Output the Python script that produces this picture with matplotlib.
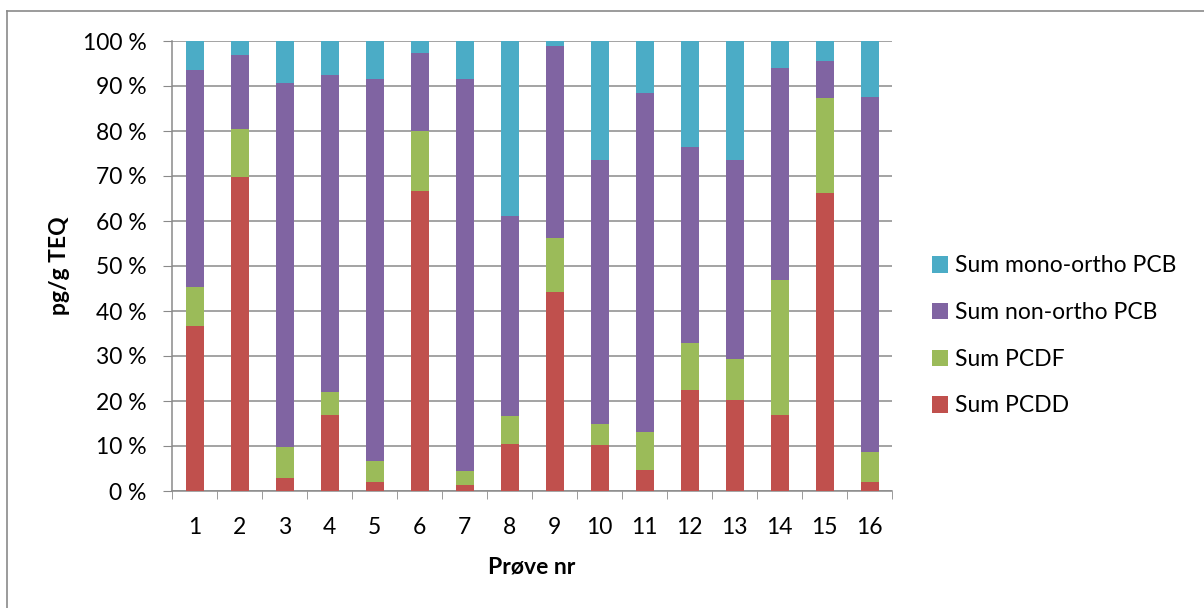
import numpy as np
import matplotlib.pyplot as plt
from matplotlib.lines import Line2D
from matplotlib.patches import Patch

# Share of TEQ per sample (%)
samples = [str(i) for i in range(1, 17)]
pcdd = [36.7, 69.8, 3.0, 16.9, 2.1, 66.7, 1.3, 10.4, 44.2, 10.2, 4.7, 22.5, 20.3, 16.9, 66.3, 2.1]
pcdf = [8.6, 10.6, 6.8, 5.1, 4.6, 13.2, 3.1, 6.3, 12.0, 4.7, 8.4, 10.3, 9.0, 30.0, 21.0, 6.6]
non_ortho = [48.3, 16.5, 80.9, 70.4, 84.9, 17.5, 87.2, 44.5, 42.8, 58.7, 75.3, 43.6, 44.3, 47.2, 8.3, 78.8]
mono_ortho = [6.4, 3.1, 9.3, 7.6, 8.4, 2.6, 8.4, 38.8, 1.0, 26.4, 11.6, 23.6, 26.4, 5.9, 4.4, 12.5]

series = [
    ("Sum PCDD", pcdd, "#C0504D"),
    ("Sum PCDF", pcdf, "#9BBB59"),
    ("Sum non-ortho PCB", non_ortho, "#8064A2"),
    ("Sum mono-ortho PCB", mono_ortho, "#4BACC6"),
]

plt.rcParams['font.family'] = ['Lato', 'DejaVu Sans']

W, H = 1204, 608
fig = plt.figure(figsize=(W / 100, H / 100), dpi=100)
ax = fig.add_axes([172 / W, 1 - 491 / H, 720 / W, 450 / H])

x = np.arange(len(samples))
bottom = np.zeros(len(samples))
for name, vals, color in series:
    vals = np.array(vals)
    ax.bar(x, vals, width=0.4, bottom=bottom, color=color, zorder=3, label=name)
    bottom += vals

ax.set_xlim(-0.5, len(samples) - 0.5)
ax.set_ylim(0, 100)
ax.set_yticks(np.arange(0, 101, 10))
ax.set_yticklabels([f"{v} %" for v in range(0, 101, 10)])
ax.set_xticks(x)
ax.set_xticklabels(samples)
ax.set_xticks(np.arange(-0.5, len(samples), 1), minor=True)

gray = "#8a8a8a"
ax.grid(axis="y", color=gray, linewidth=1.1, zorder=0)
for s in ["top", "right"]:
    ax.spines[s].set_visible(False)
for s in ["left", "bottom"]:
    ax.spines[s].set_color(gray)
    ax.spines[s].set_linewidth(1.1)

fs = 16.5
ax.tick_params(axis="y", direction="out", length=6.5, color=gray, labelsize=fs, pad=12)
ax.tick_params(axis="x", which="major", length=0, labelsize=fs, pad=19)
ax.tick_params(axis="x", which="minor", direction="out", length=6, color=gray)

ax.set_ylabel("pg/g TEQ", fontsize=fs, fontweight="bold", labelpad=9)
ax.set_xlabel("Prøve nr", fontsize=fs, fontweight="bold", labelpad=13)

# legend, top entry first
leg_handles = [Patch(facecolor=c, edgecolor="none") for _, _, c in reversed(series)]
leg_labels = [n for n, _, _ in reversed(series)]
fig.legend(leg_handles, leg_labels, loc="center left",
           bbox_to_anchor=(932 / W, 1 - 336 / H), frameon=False,
           fontsize=fs, handlelength=0.7, handleheight=0.7,
           handletextpad=0.3, labelspacing=1.12, borderpad=0, borderaxespad=0)

# outer chart border
fig.add_artist(Line2D([7 / W, 7 / W], [0, 1 - 11 / H], color=gray, linewidth=1.2))
fig.add_artist(Line2D([7 / W, 1], [1 - 11 / H, 1 - 11 / H], color=gray, linewidth=1.2))

fig.savefig("out.png", dpi=100)
